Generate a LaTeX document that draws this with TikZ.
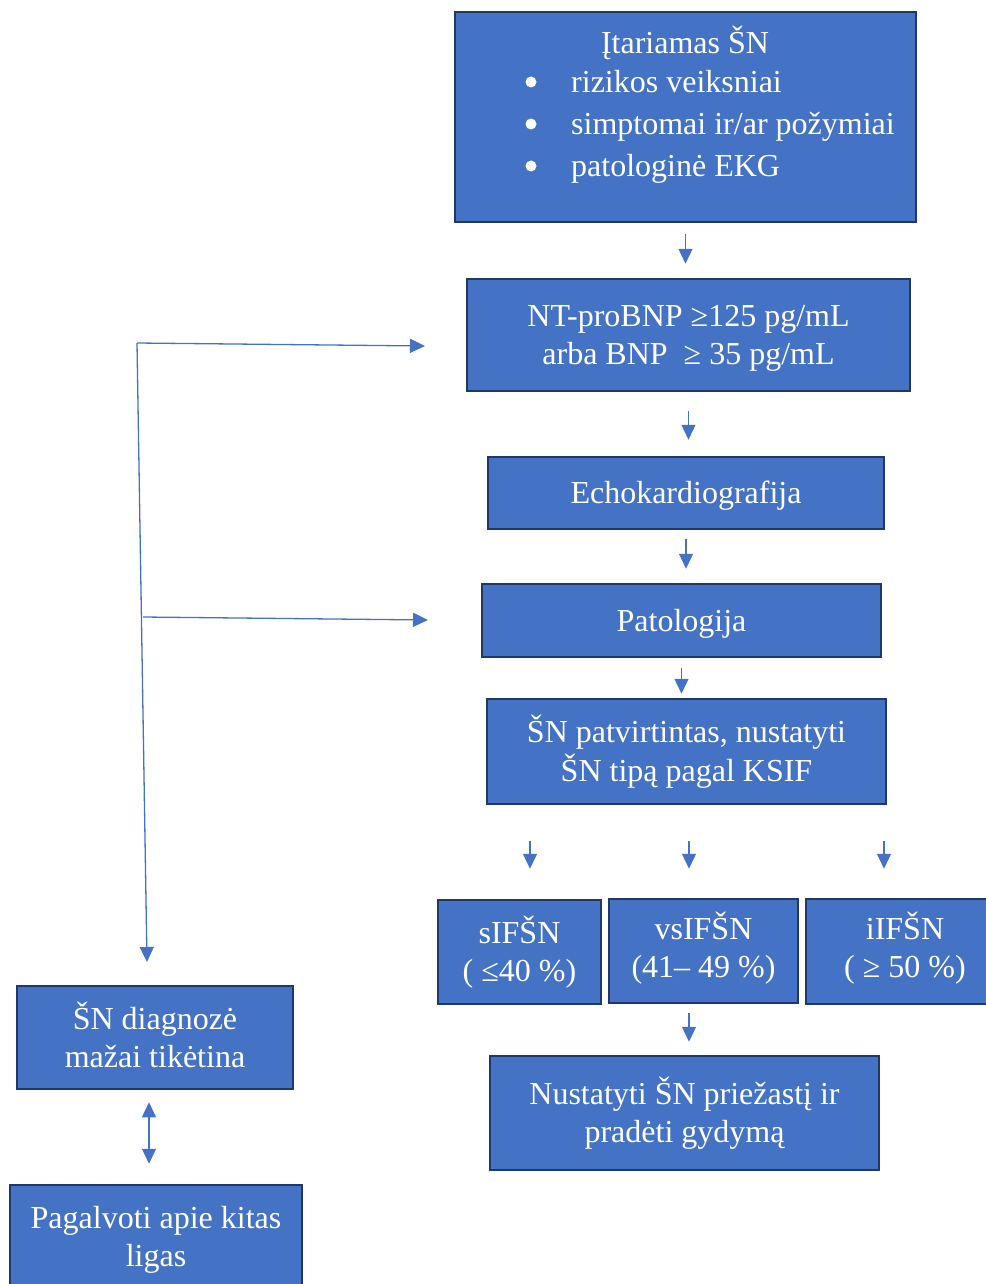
\documentclass[tikz,border=0pt]{standalone}
\usepackage{fontspec}
\setmainfont{Liberation Serif}
\usetikzlibrary{positioning,arrows.meta}
\definecolor{boxblue}{HTML}{4472C4}
\definecolor{boxedge}{HTML}{1F3864}

% box text with even line struts
\newcommand{\boxtext}[1]{\begin{tabular}{@{}c@{}}\rule{0pt}{33pt}#1\end{tabular}}
\newcommand{\boxtextup}[1]{\begin{tabular}{@{}c@{}}\rule{0pt}{33pt}#1\rule[-19pt]{0pt}{19pt}\end{tabular}}

\tikzset{
  stage/.style={draw=boxedge, line width=2.5pt, fill=boxblue, text=white,
    inner sep=0pt, font=\fontsize{32}{38}\selectfont},
  txt/.style={text=white, inner sep=0pt, font=\fontsize{32}{38}\selectfont},
  bullet/.style={circle, fill=white, inner sep=0pt, minimum size=11pt},
  arr/.style={-{Triangle[length=15pt,width=14pt]}, draw=boxblue, line width=1.3pt},
}

\begin{document}
\begin{tikzpicture}[x=1pt, y=-1pt]
    \useasboundingbox (0,0) rectangle (985,1284);

    % main column
    \node[stage, minimum width=461pt, minimum height=210pt] (suspect) at (685.5,117) {};
    \node[txt, anchor=base] (title) at (685,54) {Įtariamas ŠN};
    \foreach \t [count=\i] in {{rizikos veiksniai}, {simptomai ir/ar požymiai}, {patologinė EKG}}{
        \node[bullet] (dot\i) at (531, 40+42*\i) {};
        \node[txt, anchor=base west] (item\i) at (571, 51+42*\i) {\t};
    }
    \node[stage, minimum width=443pt, minimum height=112pt] (bnp) at (688.5,335)
        {\boxtext{NT-proBNP ≥125 pg/mL\\arba BNP \ ≥ 35 pg/mL}};
    \node[stage, minimum width=396pt, minimum height=72pt] (echo) at (686,493) {\boxtext{Echokardiografija}};
    \node[stage, minimum width=399pt, minimum height=73pt] (patol) at (681.5,620.5) {\boxtext{Patologija}};
    \node[stage, minimum width=399pt, minimum height=105pt] (confirm) at (686.5,751.5)
        {\boxtext{ŠN patvirtintas, nustatyti\\ŠN tipą pagal KSIF}};

    % HF types
    \node[stage, minimum width=163pt, minimum height=104pt] (hfref) at (519.5,952) {\boxtext{sIFŠN\\( ≤40 \%)}};
    \node[stage, minimum width=189pt, minimum height=104pt] (hfmref) at (703.5,951) {\boxtextup{vsIFŠN\\(41– 49 \%)}};
    \node[stage, minimum width=198pt, minimum height=105pt] (hfpef) at (905,951.5) {\boxtextup{iIFŠN\\( ≥ 50 \%)}};
    \node[stage, minimum width=389pt, minimum height=114pt] (cause) at (684.5,1113)
        {\boxtext{Nustatyti ŠN priežastį ir\\pradėti gydymą}};

    % left column
    \node[stage, minimum width=276pt, minimum height=103pt] (unlikely) at (155,1037.5)
        {\boxtext{ŠN diagnozė\\mažai tikėtina}};
    \node[stage, minimum width=292pt, minimum height=104pt] (other) at (156,1237)
        {\boxtext{Pagalvoti apie kitas\\ligas}};

    % arrows down the main column
    \draw[arr, shorten <=11pt, shorten >=14pt] (suspect.south) -- (suspect.south |- bnp.north);
    \draw[arr, shorten <=19pt, shorten >=16pt] (bnp.south) -- (bnp.south |- echo.north);
    \draw[arr, shorten <=9pt, shorten >=14pt] (echo.south) -- (echo.south |- patol.north);
    \draw[arr, shorten <=10pt, shorten >=4pt] (patol.south) -- (patol.south |- confirm.north);
    \foreach \n/\dx in {hfref/10.5, hfmref/-14.5, hfpef/-21}{
        \coordinate (top-\n) at ([xshift=\dx pt]\n.north);
        \draw[arr, shorten <=36pt, shorten >=30pt] (top-\n |- confirm.south) -- (top-\n |- hfref.north);
    }
    \draw[arr, shorten <=9pt, shorten >=13pt] ([xshift=-14.5pt]hfmref.south) -- ([xshift=-14.5pt]hfmref.south |- cause.north);

    % negative branch on the left
    \coordinate (j1) at (137,343);
    \coordinate (j2) at (143,617);
    \coordinate (j3) at (147,962);
    \coordinate (t1) at (425,346);
    \coordinate (t2) at (428,620);
    \draw[arr] (j1) -- (t1);
    \draw[arr] (j2) -- (t2);
    \draw[arr] (j1) -- (j3);
    \draw[arr, {Triangle[length=15pt,width=14pt]}-{Triangle[length=15pt,width=14pt]},
        shorten <=12pt, shorten >=20pt] ([xshift=-6pt]unlikely.south) -- ([xshift=-6pt]unlikely.south |- other.north);
\end{tikzpicture}
\end{document}
